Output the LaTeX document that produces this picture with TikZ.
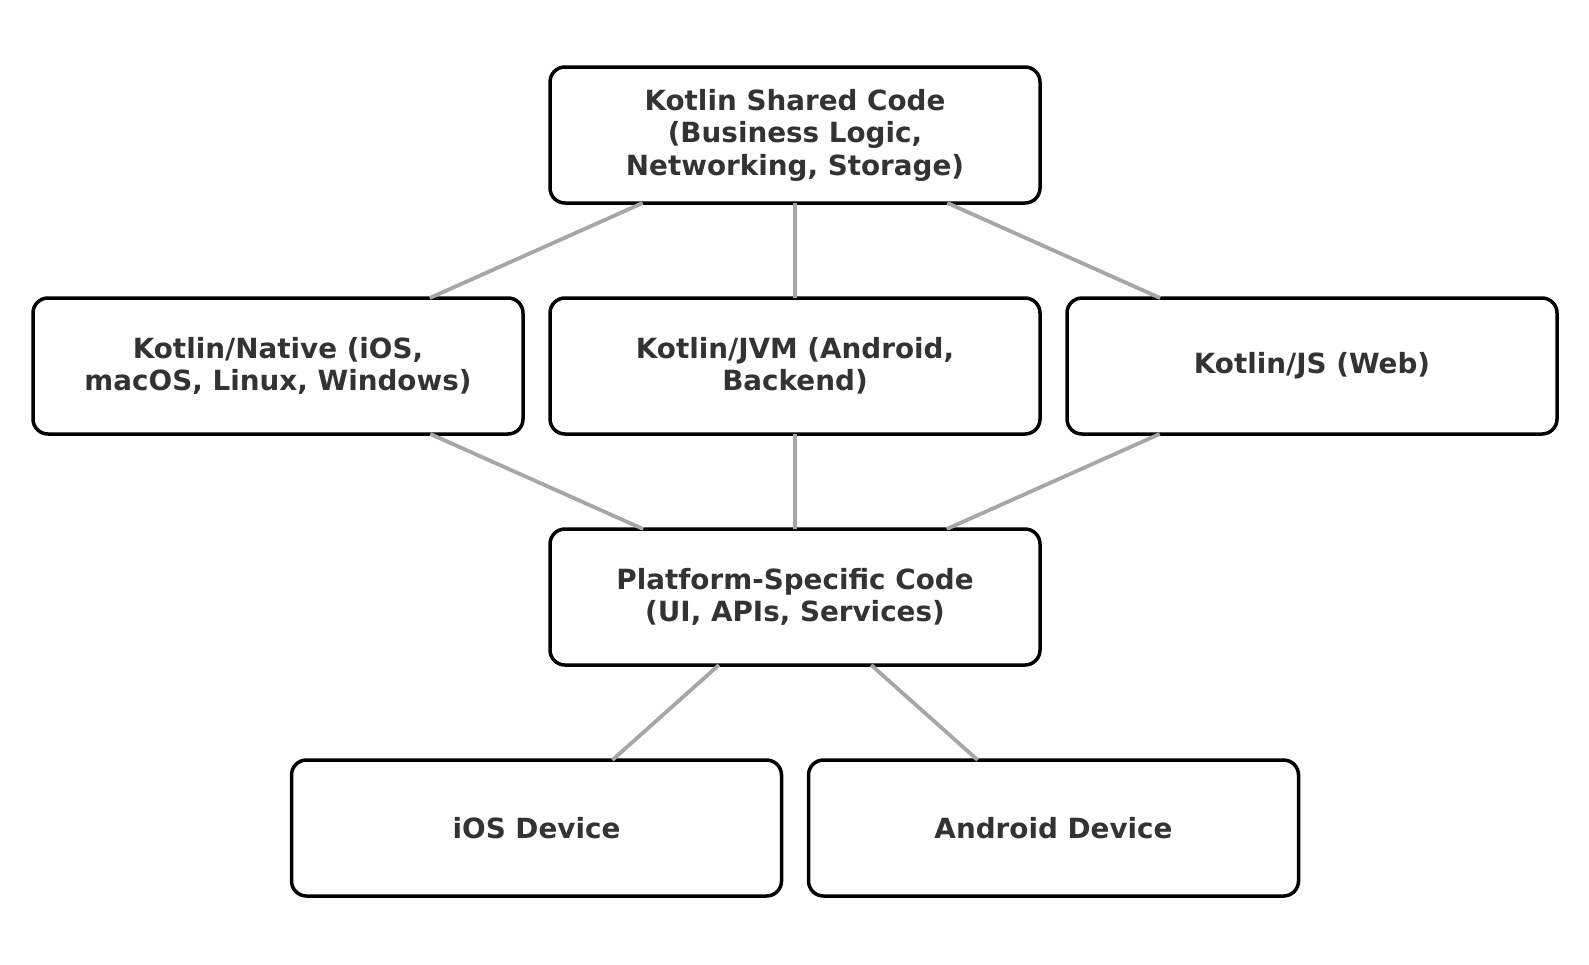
\documentclass[tikz,border=0pt]{standalone}
\usepackage{fontspec}
\setmainfont{DejaVu Sans}
\usepackage{tikz}
\definecolor{c333333}{RGB}{51,51,51}
\definecolor{ca6a6a6}{RGB}{166,166,166}

\begin{document}
\begin{tikzpicture}[y=1pt,x=1pt,yscale=-1, inner sep=0pt, outer sep=0pt,
  box/.style={draw=black,fill=white,line width=3.5pt,rounded corners=15pt,
    minimum width=490pt,minimum height=136pt,align=center,text=c333333,
    font=\fontsize{27.8}{32.5}\selectfont\bfseries},
  link/.style={draw=ca6a6a6,line width=3.8pt,line cap=butt}]
  \useasboundingbox (0,0) rectangle (1589,964);
  \node[box] (rectShared) at (795,135) {Kotlin Shared Code\\(Business Logic,\\Networking, Storage)};
  \node[box] (rectNative) at (278,366) {Kotlin/Native (iOS,\\macOS, Linux, Windows)};
  \node[box] (rectJVM) at (795,366) {Kotlin/JVM (Android,\\Backend)};
  \node[box] (rectJS) at (1312,366) {Kotlin/JS (Web)};
  \node[box] (rectPlatform) at (795,597) {Platform-Specific Code\\(UI, APIs, Services)};
  \node[box] (rectIOS) at (536.5,828) {iOS Device};
  \node[box] (rectAndroid) at (1053.5,828) {Android Device};
  \path[link] (rectShared) -- (rectNative);
  \path[link] (rectShared) -- (rectJVM);
  \path[link] (rectShared) -- (rectJS);
  \path[link] (rectNative) -- (rectPlatform);
  \path[link] (rectJVM) -- (rectPlatform);
  \path[link] (rectJS) -- (rectPlatform);
  \path[link] (rectPlatform) -- (rectIOS);
  \path[link] (rectPlatform) -- (rectAndroid);
\end{tikzpicture}
\end{document}
